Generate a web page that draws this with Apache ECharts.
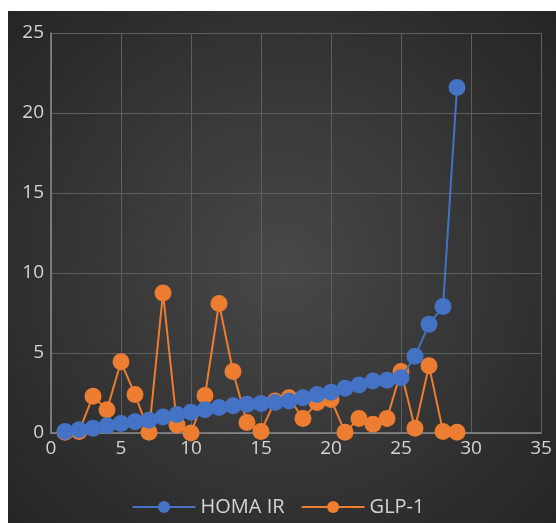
<!DOCTYPE html>
<html>
<head>
<meta charset="utf-8">
<style>
  html, body { margin: 0; padding: 0; background: #ffffff; }
  #chart { width: 556px; height: 523px; }
</style>
<script src="https://cdn.jsdelivr.net/npm/echarts@6/dist/echarts.min.js"></script>
</head>
<body>
<div id="chart"></div>
<script>
// Subject index (x) and measured values per subject
const subjects = [1, 2, 3, 4, 5, 6, 7, 8, 9, 10, 11, 12, 13, 14, 15, 16, 17, 18, 19, 20, 21, 22, 23, 24, 25, 26, 27, 28, 29];
const homaIR = [0.1, 0.2, 0.3, 0.45, 0.6, 0.7, 0.8, 1.0, 1.15, 1.3, 1.45, 1.6, 1.7, 1.8, 1.85, 1.9, 2.0, 2.2, 2.4, 2.55, 2.8, 3.0, 3.25, 3.3, 3.45, 4.8, 6.8, 7.9, 21.6];
const glp1 = [0.05, 0.1, 2.3, 1.45, 4.45, 2.4, 0.05, 8.75, 0.5, 0.0, 2.35, 8.1, 3.85, 0.65, 0.1, 2.0, 2.2, 0.9, 1.9, 2.1, 0.05, 0.9, 0.55, 0.9, 3.85, 0.3, 4.2, 0.1, 0.05];
const seriesNames = ['HOMA IR', 'GLP-1'];
const xTicks = [0, 5, 10, 15, 20, 25, 30, 35];
const yTicks = [0, 5, 10, 15, 20, 25];

const pairs = (xs, ys) => xs.map((x, i) => [x, ys[i]]);
const FONT = '"Open Sans", "Noto Sans", sans-serif';
const labelColor = '#d4d4d4';

const chart = echarts.init(document.getElementById('chart'), null, { renderer: 'canvas' });

chart.setOption({
  backgroundColor: '#ffffff',
  animation: false,
  graphic: [{
    type: 'rect',
    left: 8, top: 11,
    shape: { width: 548, height: 512 },
    silent: true,
    z: -10,
    style: {
      fill: {
        type: 'radial', x: 0.5, y: 0.5, r: 0.75,
        colorStops: [
          { offset: 0, color: '#484848' },
          { offset: 1, color: '#242424' }
        ]
      }
    }
  }],
  grid: { left: 51, right: 15, top: 33, bottom: 90, containLabel: false },
  xAxis: {
    type: 'value',
    min: xTicks[0], max: xTicks[xTicks.length - 1], interval: 5,
    axisLine: { show: true, lineStyle: { color: '#8a8a8a', width: 1.5 } },
    axisTick: { show: false },
    splitLine: { show: true, lineStyle: { color: '#5e5e5e', width: 1 } },
    axisLabel: { color: labelColor, fontFamily: FONT, fontSize: 19, margin: 6 }
  },
  yAxis: {
    type: 'value',
    min: yTicks[0], max: yTicks[yTicks.length - 1], interval: 5,
    axisLine: { show: true, lineStyle: { color: '#8a8a8a', width: 1.5 } },
    axisTick: { show: false },
    splitLine: { show: true, lineStyle: { color: '#5e5e5e', width: 1 } },
    axisLabel: { color: labelColor, fontFamily: FONT, fontSize: 19, margin: 7 }
  },
  legend: {
    bottom: 1,
    left: 'center',
    itemWidth: 63,
    itemHeight: 15,
    itemGap: 16,
    textStyle: { color: labelColor, fontFamily: FONT, fontSize: 20 },
    data: seriesNames
  },
  series: [
    {
      name: seriesNames[1],
      type: 'line',
      data: pairs(subjects, glp1),
      symbol: 'circle',
      symbolSize: 17,
      color: '#ED7D31',
      lineStyle: { width: 2, color: '#ED7D31' },
      itemStyle: { color: '#ED7D31' },
      z: 2
    },
    {
      name: seriesNames[0],
      type: 'line',
      data: pairs(subjects, homaIR),
      symbol: 'circle',
      symbolSize: 17,
      color: '#4472C4',
      lineStyle: { width: 2, color: '#4472C4' },
      itemStyle: { color: '#4472C4' },
      z: 3
    }
  ]
});
</script>
</body>
</html>
